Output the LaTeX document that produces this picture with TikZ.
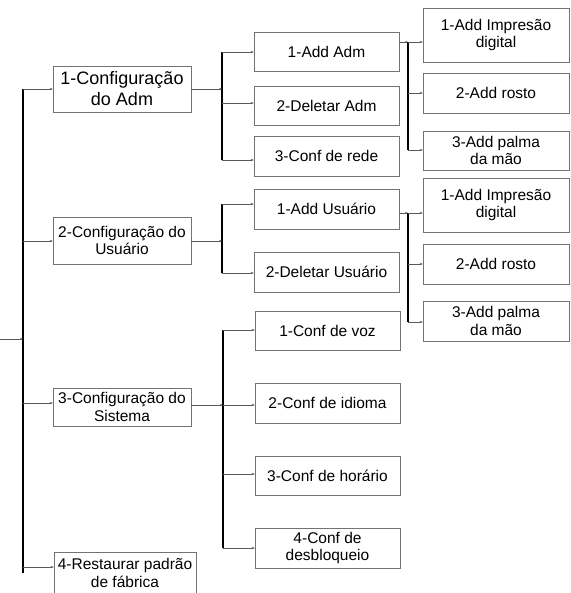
\documentclass[tikz,border=0pt]{standalone}
\usepackage{fontspec}
\setmainfont{Liberation Sans}
\usetikzlibrary{arrows.meta}

\begin{document}
\begin{tikzpicture}[x=1pt,y=-1pt,
  caixa/.style={draw=black!55, rectangle, minimum width=145pt, minimum height=40pt,
    align=center, inner sep=0pt, font=\fontsize{15.5}{17.5}\selectfont},
  menu/.style={caixa, minimum width=138pt},
  seta/.style={draw=black!65, line width=0.7pt, -{Stealth[length=3pt,width=2.4pt]}},
  ramo/.style={draw=black, line width=1.2pt}]
  \useasboundingbox (0,0) rectangle (570,593);

  % primeiro nivel
  \node[menu, minimum height=46pt, font=\fontsize{18}{21}\selectfont] (adm) at (122,89) {1-Configuração\\do Adm};
  \node[menu, minimum height=47pt] (usu) at (122,240.5) {2-Configuração do\\Usuário};
  \node[menu, minimum height=38pt] (sis) at (122,407) {3-Configuração do\\Sistema};
  \node[menu, minimum width=142pt, minimum height=42pt] (rest) at (125,573) {4-Restaurar padrão\\de fábrica};

  % segundo nivel
  \node[caixa, minimum height=39pt] (adm1) at (326.5,51.5) {1-Add Adm};
  \node[caixa, minimum height=39pt] (adm2) at (326.5,105.5) {2-Deletar Adm};
  \node[caixa] (adm3) at (326.5,156) {3-Conf de rede};
  \node[caixa] (usu1) at (326.5,209) {1-Add Usuário};
  \node[caixa] (usu2) at (326.5,272) {2-Deletar Usuário};
  \node[caixa, minimum height=39pt] (sis1) at (327.5,330.5) {1-Conf de voz};
  \node[caixa] (sis2) at (327.5,403) {2-Conf de idioma};
  \node[caixa, minimum height=39pt] (sis3) at (327.5,475.5) {3-Conf de horário};
  \node[caixa] (sis4) at (327.5,548) {4-Conf de\\desbloqueio};

  % terceiro nivel
  \node[caixa, minimum width=146pt, minimum height=54pt] (imp1) at (496,35) {1-Add Impresão\\digital};
  \node[caixa, minimum width=146pt] (ros1) at (496,93) {2-Add rosto};
  \node[caixa, minimum width=146pt, minimum height=39pt] (pal1) at (496,150.5) {3-Add palma\\da mão};
  \node[caixa, minimum width=146pt, minimum height=54pt] (imp2) at (496,205) {1-Add Impresão\\digital};
  \node[caixa, minimum width=146pt] (ros2) at (496,264) {2-Add rosto};
  \node[caixa, minimum width=146pt] (pal2) at (496,321) {3-Add palma\\da mão};

  % tronco
  \coordinate (ent) at (0,339);
  \coordinate (t0) at (23,339);
  \coordinate (t1) at (23,89);
  \coordinate (t2) at (23,241);
  \coordinate (t3) at (23,403);
  \coordinate (t4) at (23,567);
  \coordinate (tf) at (23,573);
  \draw[ramo] (t1) -- (tf);
  \draw[seta] (ent) -- (t0);
  \draw[seta] (t1) -- (t1 -| adm.west);
  \draw[seta] (t2) -- (t2 -| usu.west);
  \draw[seta] (t3) -- (t3 -| sis.west);
  \draw[seta] (t4) -- (t4 -| rest.west);

  % ramos do segundo nivel
  \coordinate (a0) at (222,89);
  \coordinate (a1) at (222,52);
  \coordinate (a2) at (222,103);
  \coordinate (a3) at (222,160);
  \draw[ramo] (a1) -- (a3);
  \draw[seta] (a0 -| adm.east) -- (a0);
  \draw[seta] (a1) -- (a1 -| adm1.west);
  \draw[seta] (a2) -- (a2 -| adm2.west);
  \draw[seta] (a3) -- (a3 -| adm3.west);

  \coordinate (u0) at (222,241);
  \coordinate (u1) at (222,204);
  \coordinate (u2) at (222,273);
  \draw[ramo] (u1) -- (u2);
  \draw[seta] (u0 -| usu.east) -- (u0);
  \draw[seta] (u1) -- (u1 -| usu1.west);
  \draw[seta] (u2) -- (u2 -| usu2.west);

  \coordinate (s0) at (223,405);
  \coordinate (s1) at (223,330);
  \coordinate (s3) at (223,474);
  \coordinate (s4) at (223,548);
  \draw[ramo] (s1) -- (s4);
  \draw[seta] (s0 -| sis.east) -- (s0);
  \draw[seta] (s0) -- (s0 -| sis2.west);
  \draw[seta] (s1) -- (s1 -| sis1.west);
  \draw[seta] (s3) -- (s3 -| sis3.west);
  \draw[seta] (s4) -- (s4 -| sis4.west);

  % ramos do terceiro nivel
  \coordinate (b1) at (408,42);
  \coordinate (b2) at (408,93);
  \coordinate (b3) at (408,150);
  \draw[ramo] (b1) -- (b3);
  \draw[seta] (b1 -| adm1.east) -- (b1);
  \draw[seta] (b1) -- (b1 -| imp1.west);
  \draw[seta] (b2) -- (b2 -| ros1.west);
  \draw[seta] (b3) -- (b3 -| pal1.west);

  \coordinate (c1) at (408,213);
  \coordinate (c2) at (408,264);
  \coordinate (c3) at (408,322);
  \draw[ramo] (c1) -- (c3);
  \draw[seta] (c1 -| usu1.east) -- (c1);
  \draw[seta] (c1) -- (c1 -| imp2.west);
  \draw[seta] (c2) -- (c2 -| ros2.west);
  \draw[seta] (c3) -- (c3 -| pal2.west);
\end{tikzpicture}
\end{document}
